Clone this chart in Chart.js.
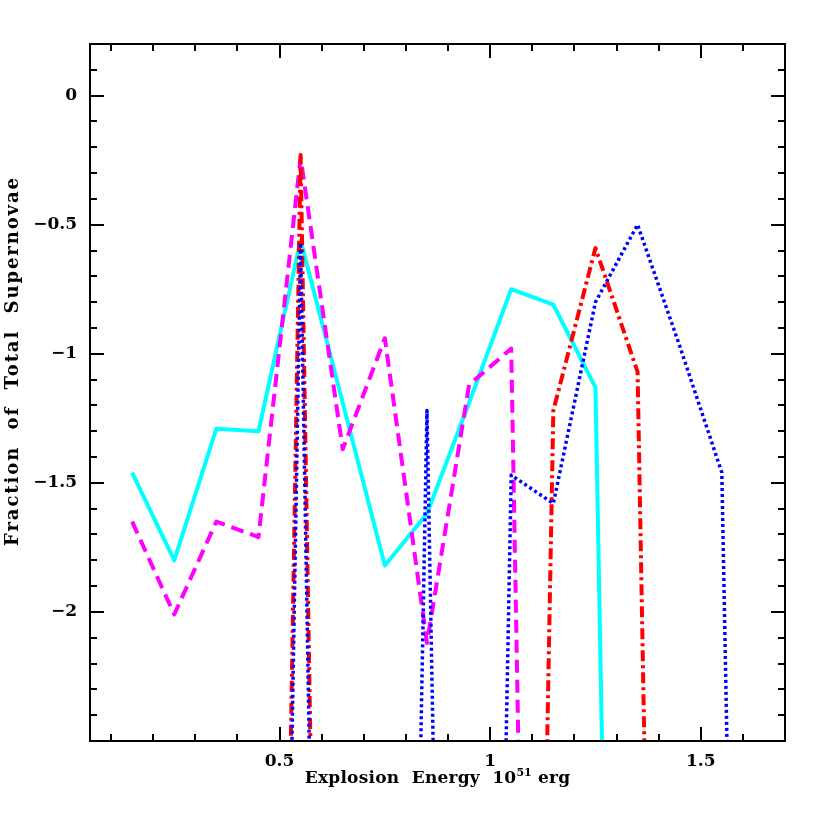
<!DOCTYPE html>
<html>
<head>
<meta charset="utf-8">
<script src="https://cdn.jsdelivr.net/npm/chart.js@4"></script>
<style>
  html, body { margin: 0; padding: 0; background: #fff; }
  #wrap { width: 830px; height: 830px; }
</style>
</head>
<body>
<div id="wrap"><canvas id="sn" width="830" height="830"></canvas></div>
<script>
// bin centres (10^51 erg) and log fraction per model; -10 = empty bin
const energy = [0.15, 0.25, 0.35, 0.45, 0.55, 0.65, 0.75, 0.85, 0.95, 1.05, 1.15, 1.25, 1.35, 1.45, 1.55, 1.65];
const cyanFrac    = [-1.46, -1.80, -1.29, -1.30, -0.56, -1.19, -1.82, -1.62, -1.19, -0.75, -0.81, -1.13, -10, -10, -10, -10];
const magentaFrac = [-1.65, -2.01, -1.65, -1.71, -0.24, -1.37, -0.94, -2.12, -1.12, -0.98, -10, -10, -10, -10, -10, -10];
const redFrac     = [-10, -10, -10, -10, -0.23, -10, -10, -10, -10, -10, -1.22, -0.59, -1.07, -10, -10, -10];
const blueFrac    = [-10, -10, -10, -10, -0.57, -10, -10, -1.22, -10, -1.47, -1.58, -0.80, -0.50, -0.97, -1.46, -10];

const xTicks = [0.5, 1, 1.5];
const yTicks = [0, -0.5, -1, -1.5, -2];
const xMinor = [0.1, 0.2, 0.3, 0.4, 0.6, 0.7, 0.8, 0.9, 1.1, 1.2, 1.3, 1.4, 1.6, 1.7];
const yMinor = [0.1, 0.2, -0.1, -0.2, -0.3, -0.4, -0.6, -0.7, -0.8, -0.9, -1.1, -1.2, -1.3, -1.4,
                -1.6, -1.7, -1.8, -1.9, -2.1, -2.2, -2.3, -2.4];

const pts = arr => energy.map((e, i) => ({ x: e, y: arr[i] }));
const minus = v => v === 0 ? '0' : String(v).replace('-', '\u2212');

const serif = '"DejaVu Serif", serif';

// spread text so it covers a given width
function spaced(ctx, text, width) {
  ctx.letterSpacing = '0px';
  const w = ctx.measureText(text).width;
  const s = Math.max(0, (width - w) / (text.length - 1));
  ctx.letterSpacing = s.toFixed(2) + 'px';
  return s;
}

// box, inward ticks on all four sides, axis titles
const framePlugin = {
  id: 'frame',
  afterDatasetsDraw(chart) {
    const ctx = chart.ctx;
    const a = chart.chartArea;
    const xs = chart.scales.x, ys = chart.scales.y;
    ctx.save();
    ctx.strokeStyle = '#000';
    ctx.lineWidth = 2;
    ctx.strokeRect(a.left, a.top, a.right - a.left, a.bottom - a.top);

    ctx.beginPath();
    const tickX = (v, len) => {
      const p = Math.round(xs.getPixelForValue(v));
      ctx.moveTo(p, a.bottom); ctx.lineTo(p, a.bottom - len);
      ctx.moveTo(p, a.top); ctx.lineTo(p, a.top + len);
    };
    const tickY = (v, len) => {
      const p = Math.round(ys.getPixelForValue(v));
      ctx.moveTo(a.left, p); ctx.lineTo(a.left + len, p);
      ctx.moveTo(a.right, p); ctx.lineTo(a.right - len, p);
    };
    xTicks.forEach(v => tickX(v, 14));
    xMinor.forEach(v => tickX(v, 7));
    yTicks.forEach(v => tickY(v, 14));
    yMinor.forEach(v => tickY(v, 7));
    ctx.stroke();

    // x title with superscript
    ctx.fillStyle = '#000';
    ctx.textBaseline = 'alphabetic';
    ctx.textAlign = 'left';
    const big = 'bold 17px ' + serif, small = 'bold 11px ' + serif;
    const p1 = 'Explosion  Energy  10', p2 = '51', p3 = ' erg';
    ctx.font = big;
    const s = spaced(ctx, p1 + p3, 250);
    const w1 = ctx.measureText(p1).width, w3 = ctx.measureText(p3).width;
    ctx.font = small;
    ctx.letterSpacing = '0px';
    const w2 = ctx.measureText(p2).width;
    const x0 = (a.left + a.right) / 2 - (w1 + w2 + w3) / 2;
    const base = 783;
    ctx.letterSpacing = s.toFixed(2) + 'px';
    ctx.font = big; ctx.fillText(p1, x0, base);
    ctx.letterSpacing = '0px';
    ctx.font = small; ctx.fillText(p2, x0 + w1, base - 7);
    ctx.letterSpacing = s.toFixed(2) + 'px';
    ctx.font = big; ctx.fillText(p3, x0 + w1 + w2, base);

    // y title
    ctx.translate(18, 361);
    ctx.rotate(-Math.PI / 2);
    ctx.textAlign = 'center';
    ctx.font = 'bold 18px ' + serif;
    const yTitle = 'Fraction  of  Total  Supernovae';
    spaced(ctx, yTitle, 368);
    ctx.fillText(yTitle, 0, 0);
    ctx.restore();
  }
};

const line = (label, arr, color, width, dash, order) => ({
  label: label,
  data: pts(arr),
  borderColor: color,
  backgroundColor: color,
  borderWidth: width,
  borderDash: dash,
  borderJoinStyle: 'round',
  pointRadius: 0,
  tension: 0,
  fill: false,
  clip: 0,
  order: order
});

new Chart(document.getElementById('sn').getContext('2d'), {
  type: 'line',
  data: {
    datasets: [
      line('cyan', cyanFrac, '#00ffff', 4, [], 4),
      line('magenta', magentaFrac, '#ff00ff', 4, [13, 7], 3),
      line('red', redFrac, '#ff0000', 4, [11, 4, 3, 4], 2),
      line('blue', blueFrac, '#0000ff', 3.5, [3, 3], 1)
    ]
  },
  options: {
    responsive: false,
    animation: false,
    layout: { padding: { top: 44, right: 45, left: 0, bottom: 0 } },
    plugins: {
      legend: { display: false },
      tooltip: { enabled: false }
    },
    scales: {
      x: {
        type: 'linear',
        min: 0.05,
        max: 1.7,
        grid: { display: false, drawTicks: false },
        border: { display: false },
        afterBuildTicks: s => { s.ticks = xTicks.map(v => ({ value: v })); },
        afterFit: s => { s.height = 89; },
        ticks: {
          padding: 10,
          maxRotation: 0,
          color: '#000',
          font: { family: serif, size: 17, weight: 'bold' },
          callback: v => minus(v)
        }
      },
      y: {
        min: -2.5,
        max: 0.2,
        grid: { display: false, drawTicks: false },
        border: { display: false },
        afterBuildTicks: s => { s.ticks = yTicks.map(v => ({ value: v })); },
        afterFit: s => { s.width = 90; },
        ticks: {
          padding: 13,
          color: '#000',
          font: { family: serif, size: 17, weight: 'bold' },
          callback: v => minus(v)
        }
      }
    }
  },
  plugins: [framePlugin]
});
</script>
</body>
</html>
